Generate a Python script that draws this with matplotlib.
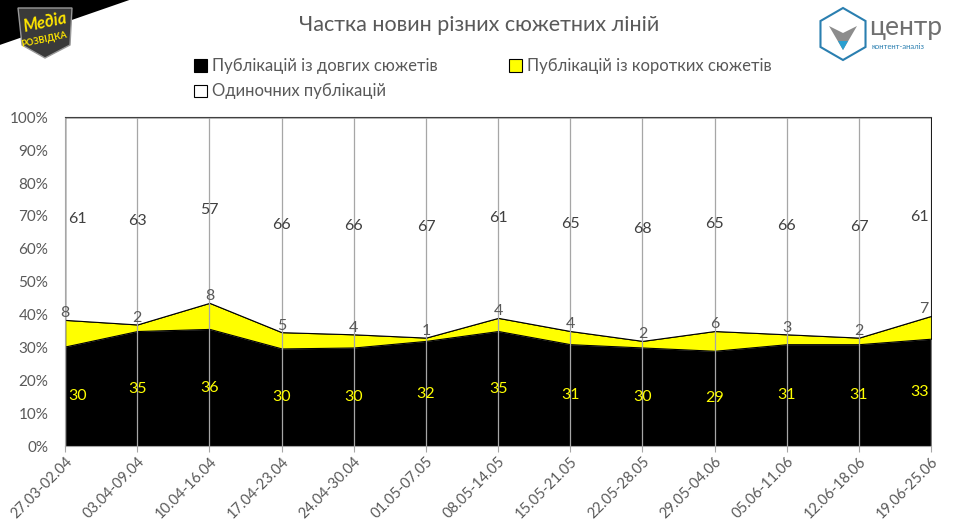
import matplotlib.pyplot as plt
import numpy as np
from matplotlib.patches import Polygon

plt.rcParams['font.family'] = ['Lato', 'DejaVu Sans']

weeks = ['27.03-02.04', '03.04-09.04', '10.04-16.04', '17.04-23.04', '24.04-30.04',
         '01.05-07.05', '08.05-14.05', '15.05-21.05', '22.05-28.05', '29.05-04.06',
         '05.06-11.06', '12.06-18.06', '19.06-25.06']
long_plots = [30, 35, 36, 30, 30, 32, 35, 31, 30, 29, 31, 31, 33]
short_plots = [8, 2, 8, 5, 4, 1, 4, 4, 2, 6, 3, 2, 7]
single = [61, 63, 57, 66, 66, 67, 61, 65, 68, 65, 66, 67, 61]

names = ['Публікацій із довгих сюжетів', 'Публікацій із коротких сюжетів',
         'Одиночних публікацій']

txt = '#595959'
W, H = 958, 528


def px(pts):
    # pixel coords (from top-left) -> figure fraction
    return [[a / W, 1 - b / H] for a, b in pts]


# 100% stacked
raw = np.array([long_plots, short_plots, single], dtype=float)
pct = raw / raw.sum(axis=0) * 100
x = np.arange(len(weeks))

fig = plt.figure(figsize=(9.58, 5.28), dpi=100)
ax = fig.add_axes([0.068, 0.155, 0.904, 0.623])

polys = ax.stackplot(x, pct, colors=['black', '#ffff00', 'white'],
                     edgecolor='black', linewidth=0.8, zorder=1)
polys[0].set_edgecolor('#808080')

for xi in x:
    ax.axvline(xi, color='#a6a6a6', lw=0.9, zorder=2)

ax.set_xlim(0, len(weeks) - 1)
ax.set_ylim(0, 100)
ax.set_yticks(np.arange(0, 101, 10))
ax.set_yticklabels([f'{v}%' for v in range(0, 101, 10)], fontsize=11, color=txt)
ax.set_xticks(x)
ax.set_xticklabels(weeks, rotation=45, ha='right', rotation_mode='anchor',
                   fontsize=10.5, color=txt)
ax.tick_params(axis='y', length=0, pad=12)
ax.tick_params(axis='x', length=4, color='#a6a6a6', pad=2)
for s in ['left', 'bottom']:
    ax.spines[s].set_color('#a6a6a6')
ax.spines['right'].set_visible(False)
ax.spines['top'].set_color('#404040')

# data labels
cum1 = pct[0]
cum2 = pct[0] + pct[1]
n = len(weeks)
for i in range(n):
    ha = 'left' if i == 0 else ('right' if i == n - 1 else 'center')
    dx = 0.04 if i == 0 else (-0.04 if i == n - 1 else 0)
    ax.text(x[i] + dx, cum1[i] / 2, str(long_plots[i]), color='#ffff00',
            ha=ha, va='center', fontsize=11.5, zorder=5)
    ax.text(x[i] + (0 if i == 0 else dx), cum2[i] + 2, str(short_plots[i]),
            color=txt, ha=ha if i else 'center', va='center', fontsize=11.5, zorder=5)
    ax.text(x[i] + dx, (cum2[i] + 100) / 2, str(single[i]), color='#404040',
            ha=ha, va='center', fontsize=11.5, zorder=5)

# legend
handles = [plt.Rectangle((0, 0), 1, 1, fc=c, ec='black', lw=0.8)
           for c in ['black', '#ffff00', 'white']]
leg = fig.legend([handles[0], handles[2], handles[1]], [names[0], names[2], names[1]],
                 ncol=2, loc='upper left', bbox_to_anchor=(0.187, 0.918), frameon=False,
                 fontsize=12, handlelength=0.75, handleheight=0.75, handletextpad=0.3,
                 columnspacing=4.3, labelspacing=0.55)
for t in leg.get_texts():
    t.set_color(txt)

fig.text(0.5, 0.953, 'Частка новин різних сюжетних ліній', ha='center', va='center',
         fontsize=15.5, color=txt)

# left logo (approximation)
fig.patches.append(Polygon([[0, 1], [0.135, 1], [0, 0.915]], closed=True,
                           transform=fig.transFigure, fc='black', ec='none'))
fig.patches.append(Polygon(px([(18, 8), (72, 8), (70, 45), (45, 58), (22, 45)]),
                           closed=True, transform=fig.transFigure,
                           fc='#3a3a3a', ec='#999999', lw=1))
fig.text(0.047, 0.958, 'Медіа', fontsize=12, fontweight='bold', style='italic',
         color='#ffe600', ha='center', va='center', rotation=12)
fig.text(0.046, 0.925, 'РОЗВІДКА', fontsize=6.5, fontweight='bold',
         color='#ffe600', ha='center', va='center', rotation=12)

# right logo (approximation)
cx, cy, r = 843, 34, 26
ang = np.deg2rad(90 + 60 * np.arange(6))
hexa = [(cx + r * np.cos(a), cy - r * np.sin(a)) for a in ang]
fig.patches.append(Polygon(px(hexa), closed=True, transform=fig.transFigure,
                           fc='none', ec='#2a7fb0', lw=1.5))
fig.patches.append(Polygon(px([(829, 26), (843, 33), (857, 26), (843, 50)]),
                           closed=True, transform=fig.transFigure, fc='#8c8c8c', ec='none'))
fig.patches.append(Polygon(px([(838, 41), (848, 41), (843, 50)]),
                           closed=True, transform=fig.transFigure, fc='#2a9fd0', ec='none'))
fig.text(869 / W, 0.948, 'центр', fontsize=19, color='#707070', ha='left', va='center')
fig.text(872 / W, 0.912, 'контент-аналіз', fontsize=5.5, color='#2a7fb0',
         ha='left', va='center')

fig.savefig('out.png', dpi=100)
